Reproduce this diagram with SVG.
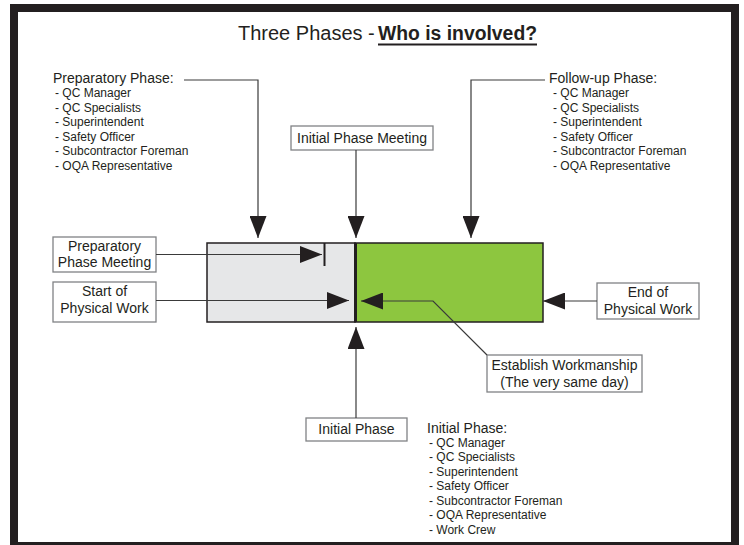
<svg xmlns="http://www.w3.org/2000/svg" width="744" height="545" viewBox="0 0 744 545">
<style>
text{font-family:"Liberation Sans",Arial,sans-serif;fill:#231f20}
.h{font-size:14px}
.i{font-size:12px}
.bt{font-size:14px;text-anchor:middle}
.box{fill:#fff;stroke:#808285;stroke-width:1.3}
.ln{fill:none;stroke:#3a3a3a;stroke-width:1.2}
</style>
<defs>
<marker id="ah" markerUnits="userSpaceOnUse" markerWidth="22" markerHeight="17" refX="22" refY="8.5" orient="auto">
<path d="M0,0 L22,8.5 L0,17 Z" fill="#231f20"/>
</marker>
</defs>
<rect x="0" y="0" width="744" height="545" fill="#fff"/>
<rect x="14" y="8" width="721" height="538" fill="none" stroke="#231f20" stroke-width="8"/>

<g id="title">
<text x="238" y="40" font-size="20">Three Phases - </text>
<text x="378" y="40" font-size="20" font-weight="bold" textLength="159" lengthAdjust="spacingAndGlyphs">Who is involved?</text>
<line x1="378" y1="44.5" x2="537" y2="44.5" stroke="#231f20" stroke-width="2"/>
</g>

<g id="phasebar">
<rect x="207" y="243" width="148" height="79" fill="#e6e7e8" stroke="#231f20" stroke-width="1.5"/>
<rect x="355" y="243" width="188" height="79" fill="#8dc63f" stroke="#231f20" stroke-width="1.5"/>
<line x1="355.5" y1="243" x2="355.5" y2="322" stroke="#231f20" stroke-width="3"/>
</g>

<g id="prep-list">
<text class="h" x="53" y="83">Preparatory Phase:</text>
<text class="i" x="55" y="97">- QC Manager</text>
<text class="i" x="55" y="111.5">- QC Specialists</text>
<text class="i" x="55" y="126">- Superintendent</text>
<text class="i" x="55" y="140.5">- Safety Officer</text>
<text class="i" x="55" y="155">- Subcontractor Foreman</text>
<text class="i" x="55" y="169.5">- OQA Representative</text>
</g>

<g id="follow-list">
<text class="h" x="549" y="83">Follow-up Phase:</text>
<text class="i" x="553" y="97">- QC Manager</text>
<text class="i" x="553" y="111.5">- QC Specialists</text>
<text class="i" x="553" y="126">- Superintendent</text>
<text class="i" x="553" y="140.5">- Safety Officer</text>
<text class="i" x="553" y="155">- Subcontractor Foreman</text>
<text class="i" x="553" y="169.5">- OQA Representative</text>
</g>

<g id="initial-list">
<text class="h" x="427" y="433">Initial Phase:</text>
<text class="i" x="429" y="446.5">- QC Manager</text>
<text class="i" x="429" y="461">- QC Specialists</text>
<text class="i" x="429" y="475.5">- Superintendent</text>
<text class="i" x="429" y="490">- Safety Officer</text>
<text class="i" x="429" y="504.5">- Subcontractor Foreman</text>
<text class="i" x="429" y="519">- OQA Representative</text>
<text class="i" x="429" y="533.5">- Work Crew</text>
</g>

<g id="initial-phase-meeting">
<rect class="box" x="291" y="126" width="142" height="24"/>
<text class="bt" x="362" y="143">Initial Phase Meeting</text>
</g>

<g id="prep-meeting">
<rect class="box" x="53" y="237" width="103" height="35"/>
<text class="bt" x="104.5" y="251">Preparatory</text>
<text class="bt" x="104.5" y="267">Phase Meeting</text>
</g>

<g id="start-work">
<rect class="box" x="53" y="282" width="103" height="40"/>
<text class="bt" x="104.5" y="296">Start of</text>
<text class="bt" x="104.5" y="313">Physical Work</text>
</g>

<g id="end-work">
<rect class="box" x="597" y="283" width="102" height="36"/>
<text class="bt" x="648" y="297">End of</text>
<text class="bt" x="648" y="314">Physical Work</text>
</g>

<g id="workmanship">
<rect class="box" x="487" y="355" width="155" height="37"/>
<text class="bt" x="564.5" y="369.5">Establish Workmanship</text>
<text class="bt" x="564.5" y="386.5">(The very same day)</text>
</g>

<g id="initial-phase">
<rect class="box" x="306" y="418" width="101" height="23"/>
<text class="bt" x="356.5" y="434">Initial Phase</text>
</g>

<g id="connectors">
<polyline class="ln" points="184,80 258,80 258,238" marker-end="url(#ah)"/>
<line class="ln" x1="356" y1="150" x2="356" y2="238" marker-end="url(#ah)"/>
<polyline class="ln" points="545,80 471,80 471,238" marker-end="url(#ah)"/>
<line class="ln" x1="156" y1="254.5" x2="322" y2="254.5" marker-end="url(#ah)"/>
<line x1="324.5" y1="243" x2="324.5" y2="266" stroke="#231f20" stroke-width="2"/>
<line class="ln" x1="156" y1="300.5" x2="349" y2="300.5" marker-end="url(#ah)"/>
<line class="ln" x1="597" y1="301" x2="543" y2="301" marker-end="url(#ah)"/>
<polyline class="ln" points="487,355 433,301 361,301" marker-end="url(#ah)"/>
<line class="ln" x1="356" y1="418" x2="356" y2="327" marker-end="url(#ah)"/>
</g>
</svg>
